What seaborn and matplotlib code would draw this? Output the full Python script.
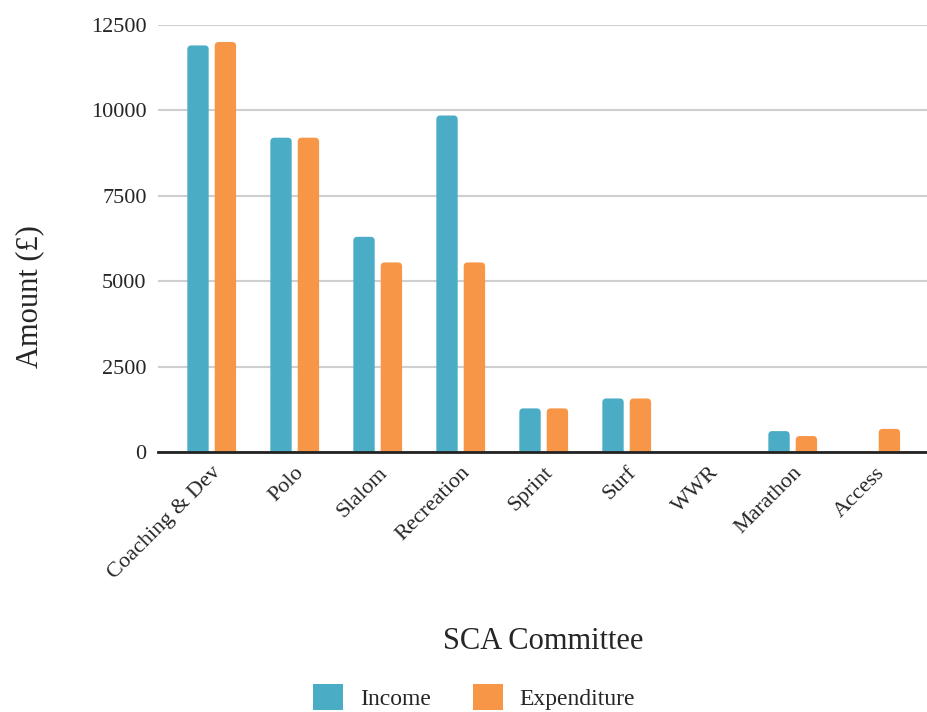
import matplotlib
matplotlib.use("Agg")
import matplotlib.pyplot as plt
import seaborn as sns
import pandas as pd
from matplotlib.patches import FancyBboxPatch, Patch

categories = ["Coaching & Dev", "Polo", "Slalom", "Recreation", "Sprint",
              "Surf", "WWR", "Marathon", "Access"]
income = [11900, 9200, 6300, 9850, 1280, 1570, 20, 615, 0]
expenditure = [12000, 9200, 5550, 5550, 1280, 1570, 0, 470, 680]
series_names = ["Income", "Expenditure"]
y_ticks = [0, 2500, 5000, 7500, 10000, 12500]
colors = ["#4BACC6", "#F79646"]

df = pd.DataFrame({
    "Committee": categories * 2,
    "Amount": income + expenditure,
    "Series": [series_names[0]] * len(categories) + [series_names[1]] * len(categories),
})

sns.set_style("white")
plt.rcParams["font.family"] = ["Liberation Serif", "DejaVu Serif"]

fig = plt.figure(figsize=(9.28, 7.12), dpi=100)
ax = fig.add_axes([0.170, 0.365, 0.830, 0.600])

sns.barplot(data=df, x="Committee", y="Amount", hue="Series", order=categories,
            hue_order=series_names, palette=colors, width=0.66, gap=0.22,
            saturation=1, legend=False, ax=ax, zorder=3)

ax.set_xlim(-0.65, 8.63)
ax.set_ylim(0, 12500)
ax.set_yticks(y_ticks)
ax.set_yticklabels([str(v) for v in y_ticks], fontsize=16)
ax.grid(axis="y", color="#cfcfcf", linewidth=1.5, zorder=0)
ax.grid(axis="x", visible=False)
ax.set_axisbelow(True)
for s in ["top", "right", "left"]:
    ax.spines[s].set_visible(False)
ax.spines["bottom"].set_color("#222222")
ax.spines["bottom"].set_linewidth(2)
ax.spines["bottom"].set_zorder(5)
ax.tick_params(axis="both", length=0, pad=8)
plt.setp(ax.get_xticklabels(), rotation=45, ha="right", rotation_mode="anchor", fontsize=16)

ax.set_ylabel("Amount (£)", fontsize=22)
ax.yaxis.set_label_coords(-0.148, 0.363)
ax.set_xlabel("SCA Committee", fontsize=22)
ax.xaxis.set_label_coords(0.5, -0.41)

# rounded tops on bars
fig.canvas.draw()
x_px = ax.transData.transform([(0, 0), (1, 0)])
y_px = ax.transData.transform([(0, 0), (0, 1000)])
px_per_x = x_px[1][0] - x_px[0][0]
px_per_y = (y_px[1][1] - y_px[0][1]) / 1000.0
aspect = px_per_x / px_per_y
radius_px = 4.0
r_x = radius_px / px_per_x
r_y = radius_px / px_per_y
for p in list(ax.patches):
    x, y = p.get_x(), p.get_y()
    w, h = p.get_width(), p.get_height()
    fc = p.get_facecolor()
    p.remove()
    if h <= 0:
        continue
    fb = FancyBboxPatch((x, y - r_y), w, h + r_y,
                        boxstyle=f"round,pad=0,rounding_size={r_x}",
                        mutation_aspect=aspect, facecolor=fc, edgecolor="none",
                        zorder=3, clip_on=True)
    ax.add_patch(fb)

handles = [Patch(facecolor=c, edgecolor="none") for c in colors]
fig.legend(handles, series_names, loc="lower center", bbox_to_anchor=(0.511, -0.027),
           ncol=2, frameon=False, fontsize=17, handlelength=1.27, handleheight=1.27,
           columnspacing=1.75, handletextpad=0.72)

fig.savefig("out.png", dpi=100)
